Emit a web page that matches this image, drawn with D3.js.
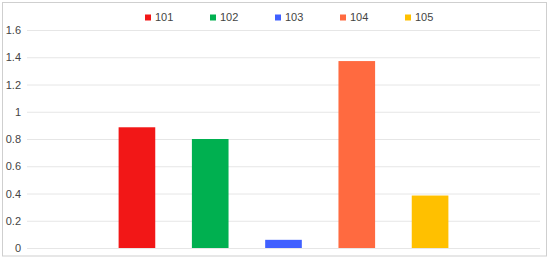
<!DOCTYPE html>
<meta charset="utf-8">
<style>
body { margin: 0; background: #fff; }
svg { display: block; }
text { font-family: Arial, "Liberation Sans", sans-serif; }
</style>
<svg id="chart"></svg>
<script src="https://d3js.org/d3.v7.min.js"></script>
<script>

var series = ["101", "102", "103", "104", "105"];
var values = [0.886, 0.80, 0.06, 1.372, 0.385];
var colors = ["#F21717", "#00B050", "#4060FF", "#FF6A40", "#FFC000"];
var yTicks = [0, 0.2, 0.4, 0.6, 0.8, 1, 1.2, 1.4, 1.6];

var width = 550,
    height = 260;

var svg = d3.select("#chart")
    .attr("width", width)
    .attr("height", height);

// frame
svg.append("rect")
    .attr("x", 2.5).attr("y", 2.5)
    .attr("width", 544).attr("height", 253.5)
    .attr("fill", "#fff")
    .attr("stroke", "#cfcfcf");

var plotLeft = 27, plotRight = 540, plotTop = 30, plotBottom = 248;

var y = d3.scaleLinear().domain([0, 1.6]).range([plotBottom, plotTop]);

var x = d3.scaleBand()
    .domain(series)
    .range([plotLeft, plotRight])
    .paddingInner(0.5)
    .paddingOuter(1.25);

// grid + labels
var yAxis = d3.axisLeft(y)
    .tickValues(yTicks)
    .tickSize(-(plotRight - plotLeft))
    .tickPadding(6)
    .tickFormat(function(d) { return d3.format("~g")(d); });

var ga = svg.append("g")
    .attr("transform", "translate(" + plotLeft + ",0)")
    .call(yAxis);
ga.select(".domain").remove();
ga.selectAll(".tick line").attr("stroke", "#e6e6e6");
ga.selectAll(".tick text")
    .attr("fill", "#444")
    .style("font-size", "11px");

// bars
svg.append("g").selectAll("rect")
    .data(series)
    .enter().append("rect")
    .attr("x", function(d) { return x(d); })
    .attr("width", x.bandwidth())
    .attr("y", function(d, i) { return y(values[i]); })
    .attr("height", function(d, i) { return plotBottom - y(values[i]); })
    .attr("fill", function(d, i) { return colors[i]; });

// legend
var legend = svg.append("g").selectAll("g")
    .data(series)
    .enter().append("g")
    .attr("transform", function(d, i) { return "translate(" + (145 + i * 65) + ",14.5)"; });

legend.append("rect")
    .attr("width", 6).attr("height", 6)
    .attr("fill", function(d, i) { return colors[i]; });

legend.append("text")
    .attr("x", 10)
    .attr("y", 3)
    .attr("dy", "0.35em")
    .attr("fill", "#444")
    .style("font-size", "11px")
    .text(function(d) { return d; });

</script>
